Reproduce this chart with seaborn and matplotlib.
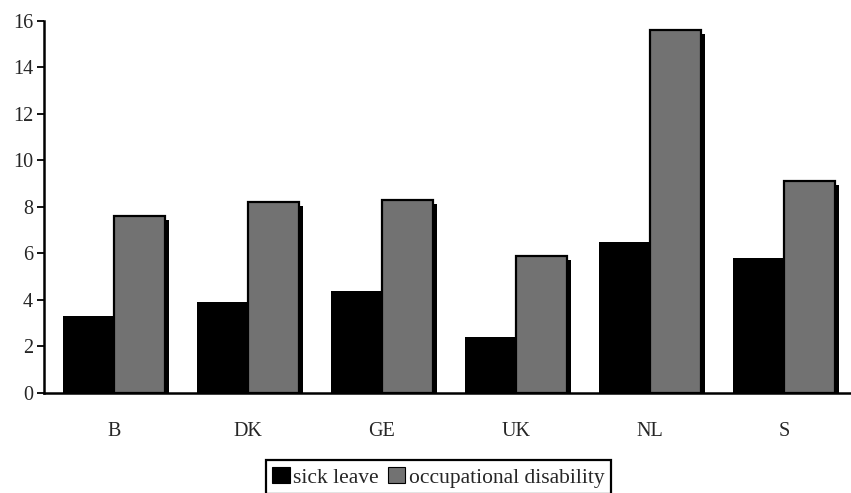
import numpy as np
import pandas as pd
import seaborn as sns
import matplotlib
matplotlib.use("Agg")
import matplotlib.pyplot as plt
import matplotlib.patheffects as pe
from matplotlib.patches import Patch

countries = ["B", "DK", "GE", "UK", "NL", "S"]
sick_leave = [3.3, 3.9, 4.4, 2.4, 6.5, 5.8]
occupational_disability = [7.6, 8.2, 8.3, 5.9, 15.6, 9.1]
series_names = ["sick leave", "occupational disability"]
y_ticks = [0, 2, 4, 6, 8, 10, 12, 14, 16]

df = pd.DataFrame({
    "country": countries * 2,
    "series": [series_names[0]] * len(countries) + [series_names[1]] * len(countries),
    "value": sick_leave + occupational_disability,
})

sns.set_style("white")
plt.rcParams["font.family"] = ["Liberation Serif", "DejaVu Serif"]

fig = plt.figure(figsize=(8.51, 4.93), dpi=100)
ax = fig.add_axes([0.052, 0.203, 0.948, 0.755])

colors = {"sick leave": "#000000", "occupational disability": "#727272"}
sns.barplot(data=df, x="country", y="value", hue="series", order=countries,
            hue_order=series_names, palette=colors, width=0.76, gap=0,
            saturation=1, ax=ax, legend=False, linewidth=0)

# style occupational disability bars with outline and drop shadow
n = len(countries)
for i, p in enumerate(ax.patches):
    if i >= n:
        p.set_edgecolor("black")
        p.set_linewidth(1.6)
        p.set_path_effects([
            pe.SimplePatchShadow(offset=(3, -3), shadow_rgbFace="black", alpha=1.0),
            pe.Normal(),
        ])

ax.set_ylim(0, 16)
ax.set_xlim(-0.52, 5.5)
ax.set_yticks(y_ticks)
ax.set_yticklabels([str(t) for t in y_ticks], fontsize=14.5)
ax.set_xticks(range(n))
ax.set_xticklabels(countries, fontsize=14.5)
ax.set_xticks(np.arange(-0.5, n, 1.0), minor=True)
ax.tick_params(axis="x", which="major", length=0, pad=21)
ax.tick_params(axis="x", which="minor", length=6, width=1.3, direction="out", color="black")
ax.tick_params(axis="y", which="major", length=5, width=1.3, direction="out", pad=3, color="black", left=True)
ax.set_xlabel("")
ax.set_ylabel("")

for s in ["top", "right"]:
    ax.spines[s].set_visible(False)
for s in ["left", "bottom"]:
    ax.spines[s].set_color("black")
    ax.spines[s].set_linewidth(1.8)

handles = [Patch(facecolor=colors[s], edgecolor="black", linewidth=0.8) for s in series_names]
leg = fig.legend(handles, series_names, loc="upper center", bbox_to_anchor=(0.515, 0.066),
                 ncol=2, frameon=True, fancybox=False, edgecolor="black", framealpha=1,
                 fontsize=15.5, handlelength=0.8, handleheight=0.78, handletextpad=0.15,
                 columnspacing=0.45, borderpad=0.3, borderaxespad=0)
leg.get_frame().set_linewidth(1.6)

fig.savefig("out.png", dpi=100)
